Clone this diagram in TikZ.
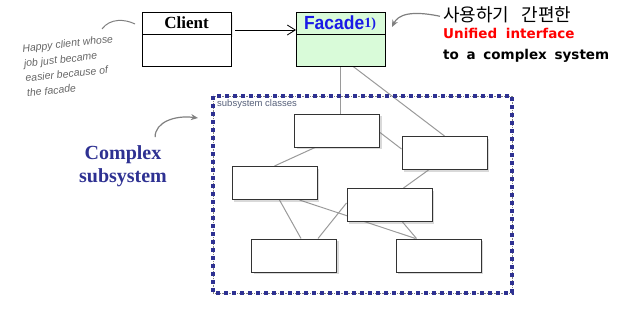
\documentclass[tikz,border=0pt]{standalone}
\usepackage{fontspec}
\usepackage{tikz}
\usetikzlibrary{positioning,arrows.meta,shadows}
\newfontfamily\korfont{Noto Sans CJK KR}
\newfontfamily\timesfont{Liberation Serif}
\newfontfamily\arialfont{Liberation Sans}
\newfontfamily\dejafont{DejaVu Sans}
\definecolor{facadegreen}{HTML}{D9FBD9}
\definecolor{facadeblue}{HTML}{1A1AE6}
\definecolor{navy}{HTML}{2E3192}
\definecolor{linegray}{HTML}{9A9A9A}
\definecolor{notegray}{HTML}{666666}
\definecolor{labelgray}{HTML}{56607A}
\pgfdeclarelayer{background}
\pgfsetlayers{background,main}
\tikzset{
  umlhead/.style={draw, line width=1pt, outer sep=0pt, inner sep=0pt, minimum width=89pt, minimum height=22pt},
  umlbody/.style={draw, line width=1pt, outer sep=0pt, inner sep=0pt, minimum width=89pt, minimum height=32pt},
  subclass/.style={draw=black!80, line width=1pt, fill=white, minimum width=85pt, minimum height=33pt,
    drop shadow={opacity=0.3, shadow xshift=2pt, shadow yshift=-2pt}},
  link/.style={draw=linegray, line width=1pt},
  pointer/.style={draw=gray, line width=1.2pt, -{Stealth[length=7pt,width=6pt]}}
}

\begin{document}
\begin{tikzpicture}[x=1pt,y=-1pt]
\useasboundingbox (0,0) rectangle (623,324);

% client and facade
\node[umlhead, fill=white, drop shadow={opacity=0.15, shadow xshift=2pt, shadow yshift=-3pt}] (client) at (186.5,23) {\timesfont\bfseries\fontsize{17}{17}\selectfont Client};
\node[umlbody, fill=white, below=0pt of client] (clientbody) {};
\node[umlhead, fill=facadegreen, text=facadeblue] (facade) at (340.5,23) {\arialfont\bfseries\fontsize{19}{19}\selectfont\hspace{-1pt}\scalebox{0.92}[1]{Facade}\raisebox{2pt}{\timesfont\fontsize{14}{14}\selectfont 1)}};
\node[umlbody, fill=facadegreen, below=0pt of facade] (facadebody) {};
\draw[line width=0.8pt, -{Straight Barb[length=8pt,width=10pt]}] ([xshift=4pt,yshift=-7pt]client.east) -- ([yshift=-7pt]facade.west);

% notes
\node[anchor=base west, inner sep=0pt] (korean) at (443,21) {\korfont\fontsize{18}{18}\selectfont 사용하기\hspace{8pt} 간편한};
\node[anchor=base west, inner sep=0pt, text=red] (unified) at (443,38) {\dejafont\bfseries\fontsize{13.5}{14}\selectfont Unified\hspace{4pt} interface};
\node[anchor=base west, inner sep=0pt] (complexsys) at (443,59) {\dejafont\bfseries\fontsize{13.5}{14}\selectfont to\hspace{3pt} a\hspace{3pt} complex\hspace{3pt} system};
\draw[pointer] ([xshift=-3pt,yshift=-2pt]korean.west) .. controls (410,10) and (398,15) .. ([xshift=7pt,yshift=-4pt]facade.east);

\node[rotate=6, align=left, text=notegray, inner sep=0pt, font=\arialfont\itshape\fontsize{10.5}{15}\selectfont] (happy) at (70,66) {Happy client whose\\job just became\\easier because of\\the facade};
\coordinate (notestart) at (102,29);
\draw[gray, line width=1pt] (notestart) .. controls (110,18) and (125,19) .. ([xshift=-7pt,yshift=-1pt]client.west);

% subsystem
\node[minimum width=299pt, minimum height=197pt, outer sep=0pt] (subsys) at (362.5,194.5) {};
\draw[gray, densely dotted, line width=0.7pt] (subsys.north west) rectangle (subsys.south east);
\draw[navy, line width=3.5pt, dash pattern=on 4pt off 4pt] (subsys.north west) rectangle (subsys.south east);
\node[anchor=north west, inner sep=0pt, text=labelgray] (subsyslabel) at ([xshift=4pt,yshift=-3pt]subsys.north west) {\arialfont\fontsize{9.5}{9.5}\selectfont subsystem classes};

\node[subclass] (subA) at (337,130.5) {};
\node[subclass] (subB) at (444.5,153) {};
\node[subclass] (subC) at (274.5,183) {};
\node[subclass] (subD) at (389.5,205) {};
\node[subclass] (subE) at (294,255.5) {};
\node[subclass] (subF) at (438.5,255.5) {};

\begin{pgfonlayer}{background}
\draw[link] (facadebody.south) -- (facadebody.south |- subA.north);
\draw[link] ([xshift=12pt]facadebody.south) -- (subB.north);
\draw[link] ([yshift=-2pt]subA.east) -- ([yshift=4pt]subB.west);
\draw[link] ([xshift=-22pt]subA.south) -- (subC.north);
\draw[link] ([xshift=-16pt]subB.south) -- ([xshift=14pt]subD.north);
\draw[link] ([xshift=5pt]subC.south) -- ([xshift=7pt]subE.north);
\draw[link] ([xshift=25pt]subC.south) -- ([xshift=-23pt]subF.north);
\draw[link] ([xshift=13pt]subD.south) -- ([xshift=-22pt]subF.north);
\draw[link] ([yshift=2pt]subD.west) -- ([xshift=24pt]subE.north);
\end{pgfonlayer}

\node[align=center, text=navy, inner sep=0pt, font=\timesfont\bfseries\fontsize{20}{23}\selectfont] (complex) at (123,166) {Complex\\subsystem};
\draw[pointer] ([xshift=-12pt,yshift=8pt]complex.north east) .. controls (155,122) and (175,115) .. ([xshift=-15pt,yshift=-22pt]subsys.north west);
\end{tikzpicture}
\end{document}
